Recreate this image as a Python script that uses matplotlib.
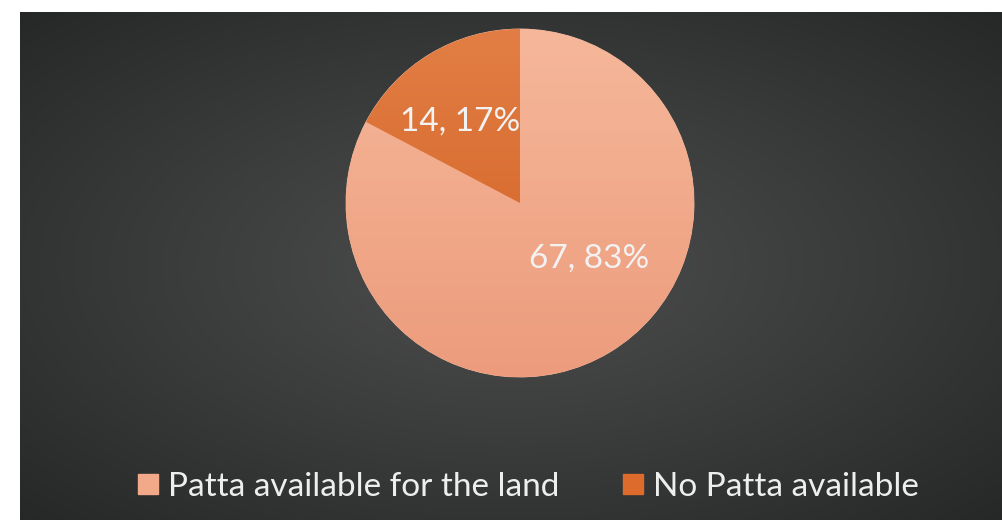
import numpy as np
import matplotlib.pyplot as plt
from matplotlib.lines import Line2D
from matplotlib.colors import LinearSegmentedColormap

labels = ['Patta available for the land', 'No Patta available']
counts = [67, 14]
colors = ['#F2A98A', '#DC6B2C']
tops = ['#F6B79A', '#E27E45']
bottoms = ['#EC9C7C', '#D05E1E']

plt.rcParams['font.family'] = ['Lato', 'DejaVu Sans']

fig = plt.figure(figsize=(10.02, 5.2), dpi=100)
fig.patch.set_facecolor('white')

# dark radial gradient background
bg = fig.add_axes([20 / 1002, 0, 982 / 1002, 508 / 520])
bg.set_axis_off()
yy, xx = np.mgrid[0:1:300j, 0:1:600j]
r = np.sqrt(((xx - 0.5) / 0.75) ** 2 + ((yy - 0.5) / 0.75) ** 2)
bgmap = LinearSegmentedColormap.from_list('bg', ['#4e4e4e', '#3a3b3b', '#262828'])
bg.imshow(r, cmap=bgmap, vmin=0, vmax=0.95, aspect='auto', extent=[0, 1, 0, 1])

# pie
cx, cy, rad = 520, 317, 174
ax = fig.add_axes([(cx - rad) / 1002, (cy - rad) / 520, 2 * rad / 1002, 2 * rad / 520])
wedges, _ = ax.pie(counts, colors=colors, startangle=90, counterclock=False,
                   wedgeprops=dict(linewidth=0.6, edgecolor='#f3b99d'))
ax.set_xlim(-1, 1)
ax.set_ylim(-1, 1)
ax.set_aspect('auto')

for w, t, b in zip(wedges, tops, bottoms):
    cm = LinearSegmentedColormap.from_list('g', [b, t])
    im = ax.imshow(np.linspace(0, 1, 200).reshape(-1, 1), cmap=cm, origin='lower',
                   extent=[-1, 1, -1, 1], aspect='auto', zorder=w.get_zorder())
    im.set_clip_path(w)

total = sum(counts)
label_pos = [(0.40, -0.32), (-0.345, 0.47)]
for n, (lx, ly) in zip(counts, label_pos):
    ax.text(lx, ly, f'{n}, {round(100 * n / total)}%', ha='center', va='center',
            fontsize=24, color='#f2f2f2', zorder=5)

handles = [Line2D([], [], marker='s', linestyle='none', markersize=15,
                  markerfacecolor=c, markeredgecolor=c) for c in colors]
fig.legend(handles, labels, loc='center', bbox_to_anchor=(527 / 1002, 33 / 520),
           ncol=2, frameon=False, fontsize=24, labelcolor='#eeeeee',
           handletextpad=0.2, columnspacing=1.8, handlelength=0.8)

fig.savefig('out.png', dpi=100, facecolor=fig.get_facecolor())
